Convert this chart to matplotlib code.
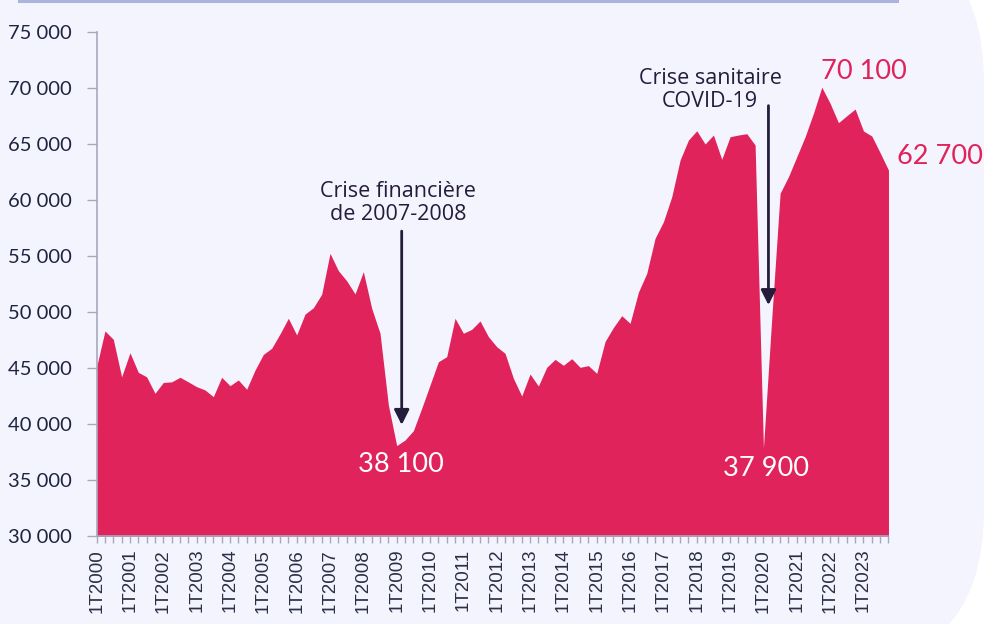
import numpy as np
import matplotlib
matplotlib.use("Agg")
import matplotlib.pyplot as plt
from matplotlib.patches import FancyBboxPatch
from matplotlib.lines import Line2D

# quarterly values, 1T2000 .. 4T2023
values = [
    45140, 48340, 47590, 44240,  # 2000
    46390, 44640, 44240, 42770,  # 2001
    43740, 43790, 44200, 43790,  # 2002
    43360, 43070, 42470, 44200,  # 2003
    43450, 43960, 43130, 44840,  # 2004
    46240, 46790, 48070, 49470,  # 2005
    47980, 49840, 50410, 51610,  # 2006
    55270, 53720, 52820, 51640,  # 2007
    53630, 50360, 48130, 41730,  # 2008
    38100, 38600, 39430, 41430,  # 2009
    43510, 45590, 46040, 49470,  # 2010
    48130, 48480, 49230, 47830,  # 2011
    46930, 46340, 44110, 42530,  # 2012
    44490, 43420, 45090, 45800,  # 2013
    45270, 45860, 45090, 45240,  # 2014
    44550, 47400, 48650, 49700,  # 2015
    49020, 51800, 53480, 56610,  # 2016
    58090, 60320, 63600, 65380,  # 2017
    66210, 65030, 65830, 63660,  # 2018
    65680, 65830, 65950, 64940,  # 2019
    37900, 49500, 60630, 62110,  # 2020
    63890, 65680, 67770, 70100,  # 2021
    68660, 66930, 67550, 68150,  # 2022
    66190, 65740, 64250, 62700,  # 2023
]
years = list(range(2000, 2024))
quarters = [f"{q}T{y}" for y in years for q in range(1, 5)]
y_ticks = [30000, 35000, 40000, 45000, 50000, 55000, 60000, 65000, 70000, 75000]

crimson = "#E0235A"
navy = "#241C3A"
grey = "#A6A9BC"
panel = "#F4F4FE"
txt_font = ["Open Sans", "DejaVu Sans"]

fig = plt.figure(figsize=(9.85, 6.24), dpi=100, facecolor="white")

# lavender panel with big rounded corners on the right
bg = FancyBboxPatch((-200, -46), 1184, 747, boxstyle="round,pad=0,rounding_size=160",
                    transform=None, facecolor=panel, edgecolor="none", zorder=0)
fig.add_artist(bg)
fig.add_artist(Line2D([19, 897], [623, 623], transform=None, color="#A9B5DB", lw=2.2))

ax = fig.add_axes([0.0981, 0.1405, 0.8039, 0.8077])
ax.set_facecolor("none")

x = np.arange(len(values))
ax.fill_between(x, 30000, values, color=crimson, lw=0, zorder=2)

ax.set_xlim(0, len(values) - 1)
ax.set_ylim(30000, 75000)

ax.set_yticks(y_ticks)
ax.set_yticklabels([f"{v:,}".replace(",", " ") for v in y_ticks],
                   fontsize=14.5, color="#1E2340", family="Lato")
ax.set_xticks(x)
ax.set_xticklabels([q if i % 4 == 0 else "" for i, q in enumerate(quarters)],
                   rotation=90, fontsize=13.5, color="#2B2F45", family="Liberation Sans")
ax.tick_params(axis="y", length=7, color=grey, width=1, pad=11)
ax.tick_params(axis="x", length=5, color=grey, width=1, pad=4)

for s in ["top", "right"]:
    ax.spines[s].set_visible(False)
for s in ["left", "bottom"]:
    ax.spines[s].set_color(grey)
    ax.spines[s].set_linewidth(1.2)
    ax.spines[s].set_zorder(3)

# annotations
arrow = dict(arrowstyle="-|>,head_width=0.45,head_length=0.9", color=navy, lw=2)
ax.annotate("", xy=(36.6, 39700), xytext=(36.6, 57500), arrowprops=arrow, zorder=4)
ax.text(36.2, 57800, "Crise financière\nde 2007-2008", ha="center", va="bottom",
        fontsize=15.5, color=navy, family=txt_font, linespacing=1.1)

ax.annotate("", xy=(80.6, 50400), xytext=(80.6, 68700), arrowprops=arrow, zorder=4)
ax.text(73.6, 67900, "Crise sanitaire\nCOVID-19", ha="center", va="bottom",
        fontsize=15.5, color=navy, family=txt_font, linespacing=1.1)

ax.text(36.5, 36400, "38 100", ha="center", va="center", fontsize=19.5,
        color="white", family="Lato", zorder=5)
ax.text(80.3, 36100, "37 900", ha="center", va="center", fontsize=19.5,
        color="white", family="Lato", zorder=5)
ax.text(92.0, 71500, "70 100", ha="center", va="center", fontsize=19.5,
        color=crimson, family="Lato", clip_on=False)
ax.text(101.2, 63900, "62 700", ha="center", va="center", fontsize=19.5,
        color=crimson, family="Lato", clip_on=False)

fig.savefig("out.png", dpi=100, facecolor="white")
